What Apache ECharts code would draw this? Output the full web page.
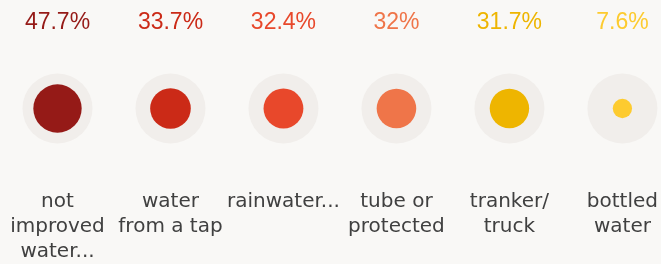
<!DOCTYPE html>
<html>
<head>
<meta charset="utf-8">
<script src="https://cdn.jsdelivr.net/npm/echarts@6/dist/echarts.min.js"></script>
<style>
  html, body { margin: 0; padding: 0; background: #f9f8f6; }
  #chart { width: 661px; height: 264px; }
</style>
</head>
<body>
<div id="chart"></div>
<script>
var categories = ['not\nimproved\nwater...', 'water\nfrom a tap', 'rainwater...', 'tube or\nprotected', 'tranker/\ntruck', 'bottled\nwater'];
var values = [47.7, 33.7, 32.4, 32, 31.7, 7.6];
var colors = ['#951a17', '#cb2a17', '#e8482b', '#ef7549', '#eeb500', '#fdcb2f'];
var fullValue = 100;

var myChart = echarts.init(document.getElementById('chart'));

// circle diameter grows with sqrt of value, 100% = 70px
function sizeOf(v) { return 7 * Math.sqrt(v); }

var bgData = categories.map(function (c, i) { return [i, 0]; });
var valData = values.map(function (v, i) {
  return {
    value: [i, 0, v],
    itemStyle: { color: colors[i] },
    label: { color: colors[i] }
  };
});

var option = {
  backgroundColor: '#f9f8f6',
  animation: false,
  grid: { left: 57.5, right: 38, top: 40, height: 138 },
  xAxis: {
    type: 'category',
    data: categories,
    boundaryGap: false,
    axisLine: { show: false },
    axisTick: { show: false },
    splitLine: { show: false },
    axisLabel: {
      interval: 0,
      margin: 12,
      color: '#404040',
      fontFamily: 'DejaVu Sans',
      fontSize: 20,
      lineHeight: 25,
      align: 'center'
    }
  },
  yAxis: { type: 'value', min: -1, max: 1, show: false },
  series: [
    {
      type: 'scatter',
      data: bgData,
      symbolSize: sizeOf(fullValue),
      itemStyle: { color: '#f1eeeb', opacity: 1 },
      silent: true
    },
    {
      type: 'scatter',
      data: valData,
      symbolSize: function (d) { return sizeOf(d[2]); },
      itemStyle: { opacity: 1 },
      label: {
        show: true,
        position: 'inside',
        offset: [0, -86],
        fontFamily: '"Liberation Sans"',
        fontSize: 23,
        formatter: function (p) { return p.value[2] + '%'; }
      }
    }
  ]
};

myChart.setOption(option);
</script>
</body>
</html>
